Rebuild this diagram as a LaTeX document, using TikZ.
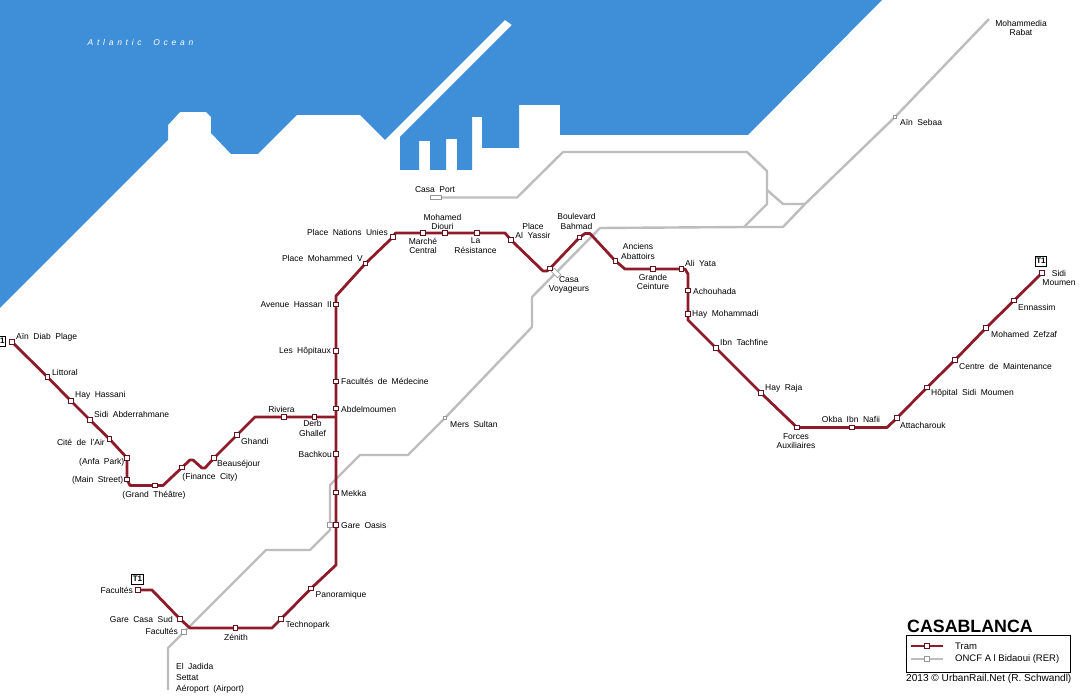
\documentclass[tikz,border=0pt]{standalone}
\usepackage{fontspec}
\setmainfont[WordSpace=1.9]{Liberation Sans}
\newfontfamily\legfont{Liberation Sans}
\pgfdeclarelayer{under}
\pgfsetlayers{under,main}
\definecolor{sea}{HTML}{3F8FD8}
\definecolor{tram}{HTML}{8E1B2A}
\definecolor{rail}{HTML}{BDBDBD}
\tikzset{
  lab/.style={inner sep=0pt,align=center,text=black,font=\fontsize{8.5}{9.6}\selectfont},
  st/.style={draw=tram!70!black,fill=white,line width=0.8pt,minimum size=4.6pt,inner sep=0pt,rectangle},
  gst/.style={draw=rail!80!black,fill=white,line width=0.6pt,minimum size=4.6pt,inner sep=0pt,rectangle},
  tramline/.style={draw=tram,line width=2.8pt,line join=round},
  railline/.style={draw=rail,line width=2.4pt,line join=round},
  tbox/.style={draw=black,fill=white,line width=0.9pt,inner sep=1.2pt,minimum width=11pt,minimum height=10pt,font=\legfont\fontsize{8}{9}\bfseries\selectfont}
}
\begin{document}
\begin{tikzpicture}[x=1pt,y=-1pt]
\useasboundingbox (0,0) rectangle (1080,700);
\begin{pgfonlayer}{under}
\fill[white] (0,0) rectangle (1080,700);
\fill[sea] (0,0) -- (882,0) -- (748,135) -- (560,135) -- (560,105) -- (519,105) -- (519,148) -- (482,148) -- (482,117) -- (472,117) -- (472,170) -- (457,170) -- (457,139) -- (446,139) -- (446,170) -- (430,170) -- (430,141) -- (419,141) -- (419,170) -- (400,170) -- (400,137) -- (512,25) -- (505,20) -- (385,140) -- (360,115) -- (297,115) -- (258,154) -- (231,154) -- (211,133) -- (211,117) -- (206,112) -- (180,112) -- (168,125) -- (168,140) -- (0,308) -- cycle;
\end{pgfonlayer}
% rail stations
\node[gst,minimum width=11pt,minimum height=4.5pt] (casaport) at (436,197.5) {};
\node[inner sep=0pt,minimum size=0pt] (mohammedia) at (989,19) {};
\node[gst,minimum size=3.5pt] (sebaa) at (895,117) {};
\node[gst,minimum size=3.5pt] (mers) at (445,418) {};
\node[gst,rotate=-45,minimum width=9pt] (voyg) at (556,273) {};
\node[gst] (oasisg) at (330,525) {};
\node[gst] (facg) at (184,632) {};
% tram stations
\foreach \n/\x/\y in {ain/12/342,litt/47.5/377,hass/71/401,sidia/90/420,cite/109.5/439,anfa/127/458,mains/127/479.5,theatre/155/485.5,finance/182/467.5,beau/214/458,ghandi/237/435,riviera/284/417,derb/314.5/417,abdel/336/408.5,hopit/336/351,facmed/336/381.5,bachkou/336/454,mekka/336/492.5,oasis/336/525,panor/311/588.5,techno/281/619,zenith/235.5/628,casasud/180/619,facul/138/590,hassan/336/304.5,mohv/365.5/263.5,nations/393/237,marche/423/233,diouri/445/233,resist/477/233,yassir/511/240,voy/550/268.5,bahmad/579.5/237.5,abatt/615.5/261,ceint/653/269,yata/681.5/269,achou/688/290.5,haymo/688/314,ibnt/716/348,raja/761/393,forces/797/427.5,okba/852/427.5,attach/897/418,hopsidi/927/387.5,centre/955/360,zefzaf/986/328,enn/1014/300.5,sidim/1042/273}
  {\node[st] (\n) at (\x,\y) {};}
% kinks
\foreach \n/\x/\y in {ra/517/197.5,rb/563/152,rc/747/152,rd/767/171,re/767/204,rf/744/227,rg/783/227,rh/600/228,ri/532/297,rj/532/327,rk/408/455,rl/360/455,rm/330/485,rn/330/530,ro/310/550,rp/266/550,rq/168/648,rr/168/690,rs/767/190,rt/783/204,ru/805/204,
 tb/130/485.5,tc/163/485.5,td/190/460,te/193/460,tf/202/468,tg/205/468,th/255/417,ti/336/417,tj/336/296,tk/395.5/233,tl/505/233,tm/543/271,tn/547/271,to/585/233.5,tp/590/233.5,tq/625/269,tr/685/269,ts/688/274,tt/688/320,tu/887/427.5,tv/336/565,tw/272/628,tx/190/628,ty/152/590}
  {\coordinate (\n) at (\x,\y);}
\begin{pgfonlayer}{under}
\path[railline] (mohammedia.center) -- (sebaa.center) -- (ru) -- (rg) -- (rf) -- (rh) -- (ri) -- (rj) -- (mers.center) -- (rk) -- (rl) -- (rm) -- (oasisg.center) -- (rn) -- (ro) -- (rp) -- (rq) -- (rr);
\path[railline] (casaport.center) -- (ra) -- (rb) -- (rc) -- (rd) -- (re) -- (rf);
\path[railline] (rs) -- (rt) -- (ru);
\path[tramline] (ain.center) -- (litt.center) -- (hass.center) -- (sidia.center) -- (cite.center) -- (anfa.center) -- (mains.center) -- (tb) -- (theatre.center) -- (tc) -- (finance.center) -- (td) -- (te) -- (tf) -- (tg) -- (beau.center) -- (ghandi.center) -- (th) -- (riviera.center) -- (derb.center) -- (ti);
\path[tramline] (facul.center) -- (ty) -- (casasud.center) -- (tx) -- (zenith.center) -- (tw) -- (techno.center) -- (panor.center) -- (tv) -- (oasis.center) -- (mekka.center) -- (bachkou.center) -- (abdel.center) -- (facmed.center) -- (hopit.center) -- (hassan.center) -- (tj) -- (mohv.center) -- (nations.center) -- (tk) -- (marche.center) -- (diouri.center) -- (resist.center) -- (tl) -- (yassir.center) -- (tm) -- (tn) -- (voy.center) -- (bahmad.center) -- (to) -- (tp) -- (abatt.center) -- (tq) -- (ceint.center) -- (yata.center) -- (tr) -- (ts) -- (achou.center) -- (haymo.center) -- (tt) -- (ibnt.center) -- (raja.center) -- (forces.center) -- (okba.center) -- (tu) -- (attach.center) -- (hopsidi.center) -- (centre.center) -- (zefzaf.center) -- (enn.center) -- (sidim.center);
\end{pgfonlayer}
% labels west-anchored
\foreach \n/\x/\y/\t in {la/16/337/{Aïn Diab Plage},lb/52/372/Littoral,lc/75/395.5/{Hay Hassani},ld/94/414.5/{Sidi Abderrahmane},le/217/464/Beauséjour,lf/241/441/Ghandi,lg/341/409/Abdelmoumen,lh/341/381/{Facultés de Médecine},li/341/493/Mekka,lj/341/525/{Gare Oasis},lk/315.5/595/Panoramique,ll/285.5/625/Technopark,lm/176/666/{El Jadida},ln/176/678/Settat,lo/176/689/{Aéroport (Airport)},lp/685/263/{Ali Yata},lq/693/291/Achouhada,lr/692/314.5/{Hay Mohammadi},ls/720/342.5/{Ibn Tachfine},lt/765/388/{Hay Raja},lu/900/425/Attacharouk,lv/931/393.5/{Hôpital Sidi Moumen},lw/959/366/{Centre de Maintenance},lx/991/334.5/{Mohamed Zefzaf},ly/1018/307/Ennassim,lz/900/122.5/{Aïn Sebaa},lA/450/424/{Mers Sultan}}
  {\node[lab,anchor=west] (\n) at (\x,\y) {\t};}
% labels east-anchored
\foreach \n/\x/\y/\t in {ma/105/442/{Cité de l'Air},mb/124.5/462/{(Anfa Park)},mc/123.5/480/{(Main Street)},md/331/351/{Les Hôpitaux},me/332/454/Bachkou,mf/173/619.5/{Gare Casa Sud},mg/178/631.5/Facultés,mh/133/590/Facultés,mi/332/305/{Avenue Hassan II},mj/363/258/{Place Mohammed V},mk/388/232/{Place Nations Unies}}
  {\node[lab,anchor=east] (\n) at (\x,\y) {\t};}
% labels centred
\foreach \n/\x/\y/\t in {na/154/495/{(Grand Théâtre)},nb/210/477/{(Finance City)},nc/281.5/409/Riviera,nd/312.5/428.5/{Derb\\Ghallef},ne/236/637/Zénith,nf/423/246/{Marché\\Central},ng/442.5/222/{Mohamed\\Diouri},nh/475.5/245.5/{La\\Résistance},ni/533/231/{Place\\Al Yassir},nj/569/285/{Casa\\Voyageurs},nk/576.5/221.5/{Boulevard\\Bahmad},nl/638/251.5/{Anciens\\Abattoirs},nm/653/282/{Grande\\Ceinture},nn/796/441/{Forces\\Auxiliaires},no/851/419.5/{Okba Ibn Nafii},np/1059/278/{Sidi\\Moumen},nq/435/189.5/{Casa Port},nr/1021/28/{Mohammedia\\Rabat}}
  {\node[lab] (\n) at (\x,\y) {\t};}
\node[font=\fontsize{8.5}{9}\itshape\addfontfeatures{LetterSpace=44}\selectfont,text=white,inner sep=0pt] (ocean) at (140.5,42) {Atlantic Ocean};
\node[tbox] (t1a) at (1041,261) {T1};
\node[tbox] (t1b) at (137.5,579) {T1};
\node[tbox] (t1c) at (0,341) {T1};
% legend
\node[font=\legfont\fontsize{17.8}{19}\bfseries\selectfont,anchor=west,inner sep=0pt] (city) at (907,626) {CASABLANCA};
\node[draw=black,line width=0.9pt,inner sep=0pt,minimum width=164pt,minimum height=37pt] (legend) at (988,653.5) {};
\node[st] (ltram) at (927,646) {};
\node[gst] (lrail) at (927,659) {};
\coordinate (lt1) at (911,646); \coordinate (lt2) at (943,646);
\coordinate (lr1) at (911,659); \coordinate (lr2) at (943,659);
\begin{pgfonlayer}{under}
\path[tramline] (lt1) -- (lt2);
\path[railline] (lr1) -- (lr2);
\end{pgfonlayer}
\node[lab,anchor=west,font=\legfont\fontsize{9.5}{10}\selectfont] (ltt) at (955,646) {Tram};
\node[lab,anchor=west,font=\legfont\fontsize{9.5}{10}\selectfont] (lrt) at (955,659.5) {ONCF A l Bidaoui (RER)};
\node[lab,anchor=west,font=\legfont\fontsize{10.1}{11}\selectfont] (copy) at (906,679) {2013 © UrbanRail.Net (R. Schwandl)};
\end{tikzpicture}
\end{document}
